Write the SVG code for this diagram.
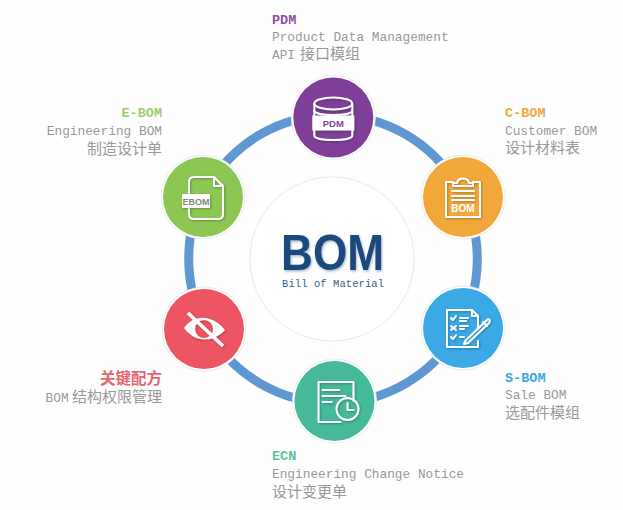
<svg xmlns="http://www.w3.org/2000/svg" width="623" height="510" viewBox="0 0 623 510">
<style>
.ttl{font:bold 13.500px "Liberation Mono","Noto Sans CJK SC",monospace}
.sub{font:12.800px "Liberation Mono","Noto Sans CJK SC",monospace;fill:#999}
.cjk{font:15px "Noto Sans CJK SC","Liberation Mono",monospace;fill:#999}
.end{text-anchor:end}
.halo{fill:#fff;stroke:#e8eef0;stroke-width:1}
.ln{fill:none;stroke:#fff;stroke-width:2;stroke-linecap:round;stroke-linejoin:round}
.ic{filter:url(#sh)}
.lab{font-family:"Liberation Sans",Arial,sans-serif;font-weight:bold;text-anchor:middle}
.arc{fill:none;stroke:#5f97d3;stroke-width:9}
</style>
<defs>
<filter id="sh" x="-20%" y="-20%" width="150%" height="150%"><feDropShadow dx="1" dy="1" stdDeviation="0.8" flood-color="#000" flood-opacity="0.28"/></filter>
<filter id="bs" x="-10%" y="-10%" width="120%" height="120%"><feDropShadow dx="1" dy="1.500" stdDeviation="1" flood-color="#1d4a7d" flood-opacity="0.4"/></filter>
</defs>
<rect width="623" height="510" fill="#fefefe"/>
<g id="connectors">
<path class="arc" d="M333 115A144 144 0 0 1 458 187"/>
<path class="arc" d="M458 187A144 144 0 0 1 458 331"/>
<path class="arc" d="M458 331A144 144 0 0 1 333 403"/>
<path class="arc" d="M333 403A144 144 0 0 1 208 331"/>
<path class="arc" d="M208 331A144 144 0 0 1 208 187"/>
<path class="arc" d="M208 187A144 144 0 0 1 333 115"/>
</g>
<g id="center">
<circle cx="332" cy="259" r="82" fill="#fff" stroke="#e6ebee" stroke-width="1"/>
<text x="281" y="270" textLength="103" lengthAdjust="spacingAndGlyphs" font-family="Liberation Sans,Arial,sans-serif" font-weight="bold" font-size="50" fill="#1d4a7d" filter="url(#bs)">BOM</text>
<text x="282" y="287" textLength="102" font-family="Liberation Mono,monospace" font-size="10.500" fill="#3a5f88">Bill of Material</text>
</g>
<g id="pdm" transform="translate(333.300 117.500)">
<circle class="halo" r="42"/><circle r="40" fill="#7f3f98"/>
<g class="ic">
<path class="ln" d="M-19 -14V18C-19 24 19 24 19 18V-14"/><ellipse class="ln" cx="0" cy="-14" rx="19" ry="6"/><path class="ln" d="M-19 -7C-19 -1 19 -1 19 -7"/>
<rect x="-21" y="-2" width="42" height="15" fill="#fff"/>
</g>
<text class="lab" y="9.500" font-size="9.500" fill="#7f3f98">PDM</text>
<text class="ttl" x="-61.300" y="-93.500" fill="#8a4fa3">PDM</text>
<text class="sub" x="-61.300" y="-76.500">Product Data Management</text>
<text class="cjk" x="-61.300" y="-58.500"><tspan class="sub">API</tspan><tspan x="-33.300">接口模组</tspan></text>
</g>
<g id="c-bom" transform="translate(463 197)">
<circle class="halo" r="42"/><circle r="40" fill="#f2a73b"/>
<g class="ic">
<path class="ln" d="M-10 -15H-17V20H17V-15H10"/><path class="ln" d="M-10 -11V-14H-6C-5 -20 5 -20 6 -14H10V-11Z"/>
<path class="ln" d="M-11 -6H11M-11 -1H11M-11 3H11"/>
</g>
<text class="lab" y="14.500" font-size="10" fill="#fff">BOM</text>
<text class="ttl" x="42" y="-80" fill="#f2a73b">C-BOM</text>
<text class="sub" x="42" y="-62">Customer BOM</text>
<text class="cjk" x="42" y="-44">设计材料表</text>
</g>
<g id="s-bom" transform="translate(463 328)">
<circle class="halo" r="42"/><circle r="40" fill="#3aa9e6"/>
<g class="ic">
<path class="ln" d="M15 1V-12L9 -18H-16V19H15V13"/><path class="ln" d="M9 -18V-12H15"/>
<path class="ln" stroke-width="1.600" d="M-12 -10L-10 -8L-7 -12M-3 -10H5M-3 -7H3M-12 -2L-7 2M-7 -2L-12 2M-3 -2H5M-3 1H1M-12 9L-10 11L-7 7M-3 9H1"/>
<path class="ln" d="M2 13L24 -8C26 -10 28 -8 26 -5L5 15L1 16Z"/><path class="ln" stroke-width="1.500" d="M20 -6L24 -2"/>
</g>
<text class="ttl" x="42" y="53.500" fill="#3aa9e0">S-BOM</text>
<text class="sub" x="42" y="71">Sale BOM</text>
<text class="cjk" x="42" y="90">选配件模组</text>
</g>
<g id="ecn" transform="translate(334.500 401)">
<circle class="halo" r="42"/><circle r="40" fill="#46b99a"/>
<g class="ic">
<path class="ln" d="M19 0V-19H-16V21H6"/>
<path class="ln" d="M-12 -11H5M-12 -5H11M-12 1H-3"/>
<circle class="ln" cx="13" cy="8" r="11"/><path class="ln" d="M13 2V9H19"/>
</g>
<text class="ttl" x="-62.500" y="59" fill="#5cc0a5">ECN</text>
<text class="sub" x="-62.500" y="77">Engineering Change Notice</text>
<text class="cjk" x="-62.500" y="96">设计变更单</text>
</g>
<g id="formula" transform="translate(204 329)">
<circle class="halo" r="42"/><circle r="40" fill="#ec5561"/>
<g class="ic">
<path fill="#fff" fill-rule="evenodd" d="M-20 -1C-10 -15 8 -15 21 1C9 14 -9 14 -20 -1ZM0 -9A9 9 0 1 0 0.100 9A9 9 0 1 0 0 -9Z"/>
<path fill="none" stroke="#fff" stroke-width="3.500" d="M-16 -16L19 17"/>
</g>
<text class="ttl end" x="-42" y="55" fill="#e8636e" style="font-size:15.500px">关键配方</text>
<text class="cjk end" x="-42" y="73"><tspan class="sub">BOM</tspan> 结构权限管理</text>
</g>
<g id="e-bom" transform="translate(203 197)">
<circle class="halo" r="42"/><circle r="40" fill="#8cc653"/>
<g class="ic">
<path class="ln" d="M-14 -4V-15Q-14 -20 -9 -20H11L20 -11V17Q20 22 15 22H-9Q-14 22 -14 17V12"/><path class="ln" d="M11 -20V-11H20"/>
<rect x="-21" y="-3" width="28" height="14" fill="#fff"/>
</g>
<text class="lab" x="-7" y="7.500" font-size="9" fill="#7b8a70">EBOM</text>
<text class="ttl end" x="-41" y="-80" fill="#9ccf6c">E-BOM</text>
<text class="sub end" x="-41" y="-62">Engineering BOM</text>
<text class="cjk end" x="-41" y="-43">制造设计单</text>
</g>
</svg>
